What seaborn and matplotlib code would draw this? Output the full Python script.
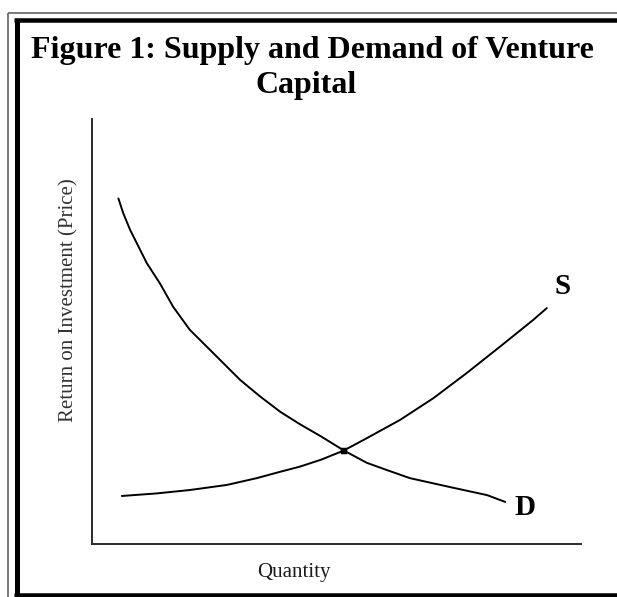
import matplotlib
matplotlib.use("Agg")
import matplotlib.pyplot as plt
import seaborn as sns
import pandas as pd
from matplotlib.lines import Line2D

# ---- data (arbitrary units 0-100) ----
demand_q = [5.4, 6.4, 7.8, 9.5, 11.2, 13.9, 16.6, 20.0, 23.5, 26.9, 30.3, 34.4, 38.5,
            42.5, 47.0, 51.5, 56.2, 60.3, 65.0, 73.2, 80.8, 84.5]
demand_p = [81.3, 77.8, 73.9, 70.0, 66.1, 61.3, 55.8, 50.4, 46.4, 42.5, 38.6, 34.7, 31.1,
            28.2, 25.2, 22.0, 19.1, 17.4, 15.5, 13.4, 11.5, 9.9]
supply_q = [6.1, 13.2, 20.0, 27.6, 33.7, 38.5, 42.5, 47.0, 51.5, 56.2, 63.0, 69.8, 76.6,
            83.4, 90.2, 93.0]
supply_p = [11.3, 11.9, 12.7, 13.9, 15.5, 17.0, 18.2, 19.9, 22.0, 24.9, 29.2, 34.3, 40.2,
            46.4, 52.7, 55.5]
equilibrium_q = [51.5]
equilibrium_p = [22.0]
curve_labels = ["S", "D"]
label_q = [96.3, 88.5]
label_p = [60.5, 8.7]

title_lines = ["Figure 1: Supply and Demand of Venture", "Capital"]
x_label = "Quantity"
y_label = "Return on Investment (Price)"

sns.set_theme(style="white")
plt.rcParams["font.family"] = ["Liberation Serif", "DejaVu Serif"]

W, H = 617, 597
fig = plt.figure(figsize=(W / 100, H / 100), dpi=100)

# axes placement in pixels
L, R, T, B = 92, 581, 119, 544
ax = fig.add_axes([L / W, 1 - B / H, (R - L) / W, (B - T) / H])

df_d = pd.DataFrame({"q": demand_q, "p": demand_p})
df_s = pd.DataFrame({"q": supply_q, "p": supply_p})
sns.lineplot(data=df_d, x="q", y="p", sort=False, color="black", lw=1.4, ax=ax)
sns.lineplot(data=df_s, x="q", y="p", sort=False, color="black", lw=1.4, ax=ax)
sns.scatterplot(x=equilibrium_q, y=equilibrium_p, color="black", s=18, marker="s",
                edgecolor="black", ax=ax, zorder=5)

for lab, q, p in zip(curve_labels, label_q, label_p):
    ax.text(q, p, lab, fontsize=21, fontweight="bold", ha="center", va="center", color="black")

ax.set_xlim(0, 100)
ax.set_ylim(0, 100)
ax.set_xticks([])
ax.set_yticks([])
ax.set_xlabel("")
ax.set_ylabel("")
sns.despine(ax=ax)
for sp in ("left", "bottom"):
    ax.spines[sp].set_color("#2a2a2a")
    ax.spines[sp].set_linewidth(1.4)

# axis labels
fig.text(293.5 / W, 1 - 572 / H, x_label, fontsize=15,
         ha="center", va="center", color="#1a1a1a")
fig.text(69 / W, 1 - 300 / H, y_label, fontsize=15, rotation=90,
         ha="center", va="center", color="#333333")

# title
fig.text(312 / W, 1 - 58 / H, title_lines[0], fontsize=23, fontweight="bold",
         ha="center", va="baseline", color="black")
fig.text(306 / W, 1 - 93 / H, title_lines[1], fontsize=23, fontweight="bold",
         ha="center", va="baseline", color="black")

# frame lines (figure pixel coords)
def fline(xs, ys, lw, color):
    fig.add_artist(Line2D([x / W for x in xs], [1 - y / H for y in ys], lw=lw * 0.72,
                          color=color, solid_capstyle="butt"))

fline([7.5, 7.5], [12.5, 597], 1.8, "#6f6f6f")
fline([7.5, 617], [12.5, 12.5], 1.8, "#6f6f6f")
fline([16.5, 16.5], [20, 597], 5, "black")
fline([14, 617], [20, 20], 4.5, "black")
fline([14, 617], [595, 595], 4.5, "black")

fig.savefig("out.png", dpi=100)
